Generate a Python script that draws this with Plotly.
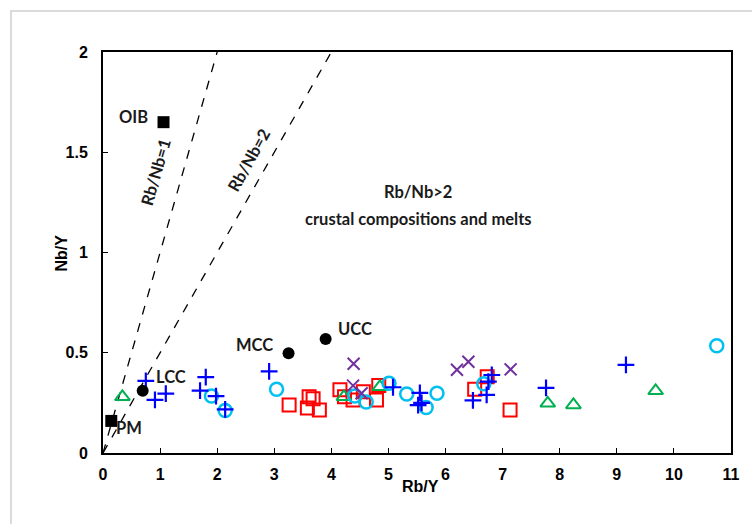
import plotly.graph_objects as go

# Reference compositions
ref_names = ["OIB", "PM", "LCC", "MCC", "UCC"]
ref_x = [1.06, 0.145, 0.695, 3.25, 3.90]
ref_y = [1.65, 0.16, 0.311, 0.497, 0.569]
ref_sym = ["square", "square", "circle", "circle", "circle"]

# Sample series
plus_x = [0.75, 0.91, 1.10, 1.70, 1.80, 1.98, 2.14, 2.91, 5.08, 5.55, 5.52, 5.58, 6.48, 6.72, 6.75, 6.81, 7.76, 9.16]
plus_y = [0.36, 0.265, 0.296, 0.311, 0.378, 0.284, 0.218, 0.407, 0.328, 0.300, 0.239, 0.25, 0.262, 0.290, 0.356, 0.389, 0.325, 0.44]

circ_x = [1.90, 2.14, 3.04, 4.41, 4.61, 5.01, 5.32, 5.66, 5.85, 6.67, 10.75]
circ_y = [0.284, 0.212, 0.318, 0.284, 0.254, 0.348, 0.294, 0.227, 0.298, 0.345, 0.535]

sq_x = [3.26, 3.61, 3.68, 3.58, 3.79, 4.15, 4.23, 4.38, 4.56, 4.79, 4.83, 6.51, 6.73, 7.13]
sq_y = [0.239, 0.280, 0.270, 0.225, 0.215, 0.316, 0.280, 0.264, 0.306, 0.264, 0.337, 0.318, 0.380, 0.214]

tri_x = [0.34, 4.22, 4.85, 7.79, 8.24, 9.68]
tri_y = [0.28, 0.28, 0.33, 0.248, 0.24, 0.31]

xm_x = [4.39, 4.38, 4.53, 6.20, 6.40, 7.14]
xm_y = [0.445, 0.336, 0.298, 0.415, 0.455, 0.417]

# Reference ratio lines Rb/Nb = 1 and Rb/Nb = 2
line1_x = [0, 2]
line1_y = [0, 2]
line2_x = [0, 4]
line2_y = [0, 2]

x_ticks = list(range(0, 12))
y_ticks = [0, 0.5, 1, 1.5, 2]
y_tick_text = ["0", "0.5", "1", "1.5", "2"]

fig = go.Figure()

for lx, ly in [(line1_x, line1_y), (line2_x, line2_y)]:
    fig.add_trace(go.Scatter(x=lx, y=ly, mode="lines",
                             line=dict(color="black", width=1.3, dash="dash"),
                             hoverinfo="skip"))

fig.add_trace(go.Scatter(x=sq_x, y=sq_y, mode="markers",
                         marker=dict(symbol="square-open", size=13, color="#FF0000",
                                     line=dict(width=2, color="#FF0000"))))
fig.add_trace(go.Scatter(x=tri_x, y=tri_y, mode="markers",
                         marker=dict(symbol="triangle-up-open", size=13, color="#00B050",
                                     line=dict(width=2, color="#00B050"))))
fig.add_trace(go.Scatter(x=circ_x, y=circ_y, mode="markers",
                         marker=dict(symbol="circle-open", size=13, color="#00C0F0",
                                     line=dict(width=2.5, color="#00C0F0"))))
fig.add_trace(go.Scatter(x=xm_x, y=xm_y, mode="markers",
                         marker=dict(symbol="x-thin-open", size=12, color="#7030A0",
                                     line=dict(width=2, color="#7030A0"))))
fig.add_trace(go.Scatter(x=plus_x, y=plus_y, mode="markers",
                         marker=dict(symbol="cross-thin-open", size=12, color="#0000FF",
                                     line=dict(width=2.2, color="#0000FF"))))
fig.add_trace(go.Scatter(x=ref_x, y=ref_y, mode="markers",
                         marker=dict(symbol=ref_sym, size=12, color="black")))

label_font = dict(family="Lato, Open Sans, sans-serif", size=16.5, color="#1a1a1a", weight="bold")

label_pos = {
    "OIB": (0.54, 1.676),
    "PM": (0.46, 0.125),
    "LCC": (1.19, 0.38),
    "MCC": (2.66, 0.54),
    "UCC": (4.41, 0.62),
}
for name in ref_names:
    px, py = label_pos[name]
    fig.add_annotation(x=px, y=py, text=name, showarrow=False, font=label_font)

fig.add_annotation(x=0.93, y=1.40, text="Rb/Nb=1", textangle=-74, showarrow=False, font=label_font)
fig.add_annotation(x=2.56, y=1.46, text="Rb/Nb=2", textangle=-61, showarrow=False, font=label_font)
fig.add_annotation(x=5.52, y=1.30, text="Rb/Nb>2", showarrow=False, font=label_font)
fig.add_annotation(x=5.52, y=1.165, text="crustal compositions and melts", showarrow=False, font=label_font)

axis_title_font = dict(family="Liberation Sans, Arial, sans-serif", size=16, color="black", weight="bold")
fig.add_annotation(xref="paper", yref="paper", x=(420 - 103) / 628, y=(453 - 497) / 401,
                   text="Rb/Y", showarrow=False, font=axis_title_font)
fig.add_annotation(xref="paper", yref="paper", x=(50 - 103) / 628, y=(453 - 253) / 401,
                   text="Nb/Y", textangle=-90, showarrow=False, font=axis_title_font)

# outer chart frame
fig.add_shape(type="rect", xref="paper", yref="paper",
              x0=(11 - 103) / 628, x1=(770 - 103) / 628,
              y0=(453 - 540) / 401, y1=(453 - 11) / 401,
              line=dict(color="#D0D0D0", width=1.5), layer="below")

tick_font = dict(family="Liberation Sans, Arial, sans-serif", size=16, color="black", weight="bold")
fig.update_xaxes(range=[0, 11], tickvals=x_ticks, ticks="inside", ticklen=5, tickwidth=1,
                 tickcolor="black", showline=True, linecolor="black", linewidth=2, mirror=True,
                 showgrid=False, zeroline=False, tickfont=tick_font, ticklabelstandoff=6)
fig.update_yaxes(range=[0, 2], tickvals=y_ticks, ticktext=y_tick_text, ticks="inside", ticklen=5,
                 tickwidth=1, tickcolor="black", showline=True, linecolor="black", linewidth=2,
                 mirror=True, showgrid=False, zeroline=False, tickfont=tick_font, ticklabelstandoff=10)

fig.update_layout(width=752, height=524, showlegend=False,
                  margin=dict(l=103, r=21, t=52, b=71),
                  plot_bgcolor="white", paper_bgcolor="white")

fig.write_html("out.html")
